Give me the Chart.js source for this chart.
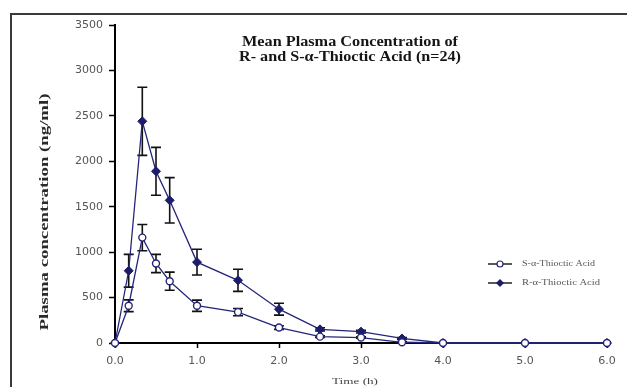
<!DOCTYPE html>
<html>
<head>
<meta charset="utf-8">
<script src="https://cdn.jsdelivr.net/npm/chart.js@4/dist/chart.umd.min.js"></script>
<style>
  html, body { margin:0; padding:0; background:#fff; }
  #wrap { position:relative; width:627px; height:387px; overflow:hidden; }
  #frame { position:absolute; left:10px; top:13px; width:700px; height:400px; border-left:2px solid #3a3a3a; border-top:2px solid #3a3a3a; }
  canvas { position:absolute; left:0; top:0; }
</style>
</head>
<body>
<div id="wrap">
  <div id="frame"></div>
  <canvas id="pk" width="627" height="387"></canvas>
</div>
<script>
// 数据：时间点 (h) 与平均血药浓度 (ng/ml)
const times = [0, 0.167, 0.333, 0.5, 0.667, 1.0, 1.5, 2.0, 2.5, 3.0, 3.5, 4.0, 5.0, 6.0];
const rMean = [0, 795, 2440, 1890, 1570, 890, 690, 372, 150, 125, 50, 0, 0, 0];
const rSD   = [0, 180, 375, 263, 250, 142, 122, 65, 18, 15, 10, 0, 0, 0];
const sMean = [0, 410, 1160, 875, 680, 410, 340, 170, 70, 60, 8, 0, 0, 0];
const sSD   = [0, 65, 145, 100, 100, 62, 40, 20, 10, 8, 4, 0, 0, 0];
const xTicks = [0, 1, 2, 3, 4, 5, 6];
const yTicks = [0, 500, 1000, 1500, 2000, 2500, 3000, 3500];
const seriesNames = ['S-\u03b1-Thioctic Acid', 'R-\u03b1-Thioctic Acid'];
const titleLines = ['Mean Plasma Concentration of', 'R- and S-\u03b1-Thioctic Acid (n=24)'];

const NAVY = '#25257a';

function toPoints(ys) { return times.map((t, i) => ({ x: t, y: ys[i] })); }

// 文字按目标宽度拉伸（原图字体偏宽）
function stretchText(ctx, text, cx, cy, font, color, width, rot) {
    ctx.save();
    ctx.font = font;
    ctx.fillStyle = color;
    ctx.textAlign = 'center';
    ctx.textBaseline = 'middle';
    const w = ctx.measureText(text).width;
    ctx.translate(cx, cy);
    if (rot) ctx.rotate(rot);
    ctx.scale(width / w, 1);
    ctx.fillText(text, 0, 0);
    ctx.restore();
}

const errorBars = {
    id: 'errorBars',
    beforeDatasetsDraw(chart) {
        const ctx = chart.ctx, xs = chart.scales.x, ys = chart.scales.y;
        const sets = [[sMean, sSD], [rMean, rSD]];
        ctx.save();
        ctx.strokeStyle = '#111';
        ctx.lineWidth = 1.6;
        sets.forEach(([m, sd]) => {
            times.forEach((t, i) => {
                if (!sd[i]) return;
                const x = xs.getPixelForValue(t);
                const y1 = ys.getPixelForValue(m[i] + sd[i]);
                const y2 = ys.getPixelForValue(m[i] - sd[i]);
                ctx.beginPath();
                ctx.moveTo(x, y1); ctx.lineTo(x, y2);
                ctx.moveTo(x - 5, y1); ctx.lineTo(x + 5, y1);
                ctx.moveTo(x - 5, y2); ctx.lineTo(x + 5, y2);
                ctx.stroke();
            });
        });
        ctx.restore();
    }
};

const decorations = {
    id: 'decorations',
    afterDraw(chart) {
        const ctx = chart.ctx;
        // 标题
        stretchText(ctx, titleLines[0], 350, 42, 'bold 14px "Liberation Serif"', '#151515', 216);
        stretchText(ctx, titleLines[1], 350, 57, 'bold 14px "Liberation Serif"', '#151515', 222);
        // 轴标题
        stretchText(ctx, 'Plasma concentration (ng/ml)', 45, 212, 'bold 13px "Liberation Serif"', '#2a2a2a', 237, -Math.PI / 2);
        stretchText(ctx, 'Time (h)', 355, 382, '9px "Liberation Serif"', '#444', 46);
        // 图例
        const rows = [264, 283];
        rows.forEach((y, i) => {
            ctx.save();
            ctx.strokeStyle = '#222';
            ctx.lineWidth = 1.5;
            ctx.beginPath(); ctx.moveTo(488, y); ctx.lineTo(512, y); ctx.stroke();
            ctx.strokeStyle = NAVY;
            ctx.lineWidth = 1.2;
            if (i === 0) {
                ctx.fillStyle = '#fff';
                ctx.beginPath(); ctx.arc(500, y, 3, 0, Math.PI * 2); ctx.fill(); ctx.stroke();
            } else {
                ctx.fillStyle = '#1c1c6b';
                ctx.beginPath();
                ctx.moveTo(500, y - 4); ctx.lineTo(504, y); ctx.lineTo(500, y + 4); ctx.lineTo(496, y);
                ctx.closePath(); ctx.fill();
            }
            ctx.restore();
            stretchText(ctx, seriesNames[i], 522 + (i ? 39 : 36.5), y, '8px "Liberation Serif"', '#555', i ? 78 : 73);
        });
    }
};

const ctx = document.getElementById('pk').getContext('2d');
new Chart(ctx, {
    type: 'scatter',
    data: {
        datasets: [
            {
                label: seriesNames[0], data: toPoints(sMean), showLine: true, clip: false,
                borderColor: NAVY, borderWidth: 1.3,
                pointStyle: 'circle', pointRadius: 3.5,
                pointBackgroundColor: '#fff', pointBorderColor: NAVY, pointBorderWidth: 1.4
            },
            {
                label: seriesNames[1], data: toPoints(rMean), showLine: true, clip: false,
                borderColor: NAVY, borderWidth: 1.3,
                pointStyle: 'rectRot', pointRadius: 4.5,
                pointBackgroundColor: '#1c1c6b', pointBorderColor: '#1c1c6b', pointBorderWidth: 1
            }
        ]
    },
    options: {
        responsive: false,
        animation: false,
        layout: { padding: { top: 25, right: 20, left: 0, bottom: 0 } },
        plugins: { legend: { display: false }, tooltip: { enabled: false } },
        scales: {
            x: {
                type: 'linear', min: 0, max: 6,
                afterBuildTicks: s => { s.ticks = xTicks.map(v => ({ value: v })); },
                afterFit: s => { s.height = 44; },
                ticks: { callback: v => v.toFixed(1), font: { family: 'DejaVu Sans', size: 11 }, color: '#555', padding: 7, maxRotation: 0 },
                grid: { drawOnChartArea: false, tickLength: 5, color: '#000', tickWidth: 1.5 },
                border: { color: '#000', width: 2 }
            },
            y: {
                min: 0, max: 3500,
                afterBuildTicks: s => { s.ticks = yTicks.map(v => ({ value: v })); },
                afterFit: s => { s.width = 115; },
                ticks: { callback: v => String(v), font: { family: 'DejaVu Sans', size: 11 }, color: '#555', padding: 6 },
                grid: { drawOnChartArea: false, tickLength: 6, color: '#000', tickWidth: 1.5 },
                border: { color: '#000', width: 2 }
            }
        }
    },
    plugins: [errorBars, decorations]
});
</script>
</body>
</html>
